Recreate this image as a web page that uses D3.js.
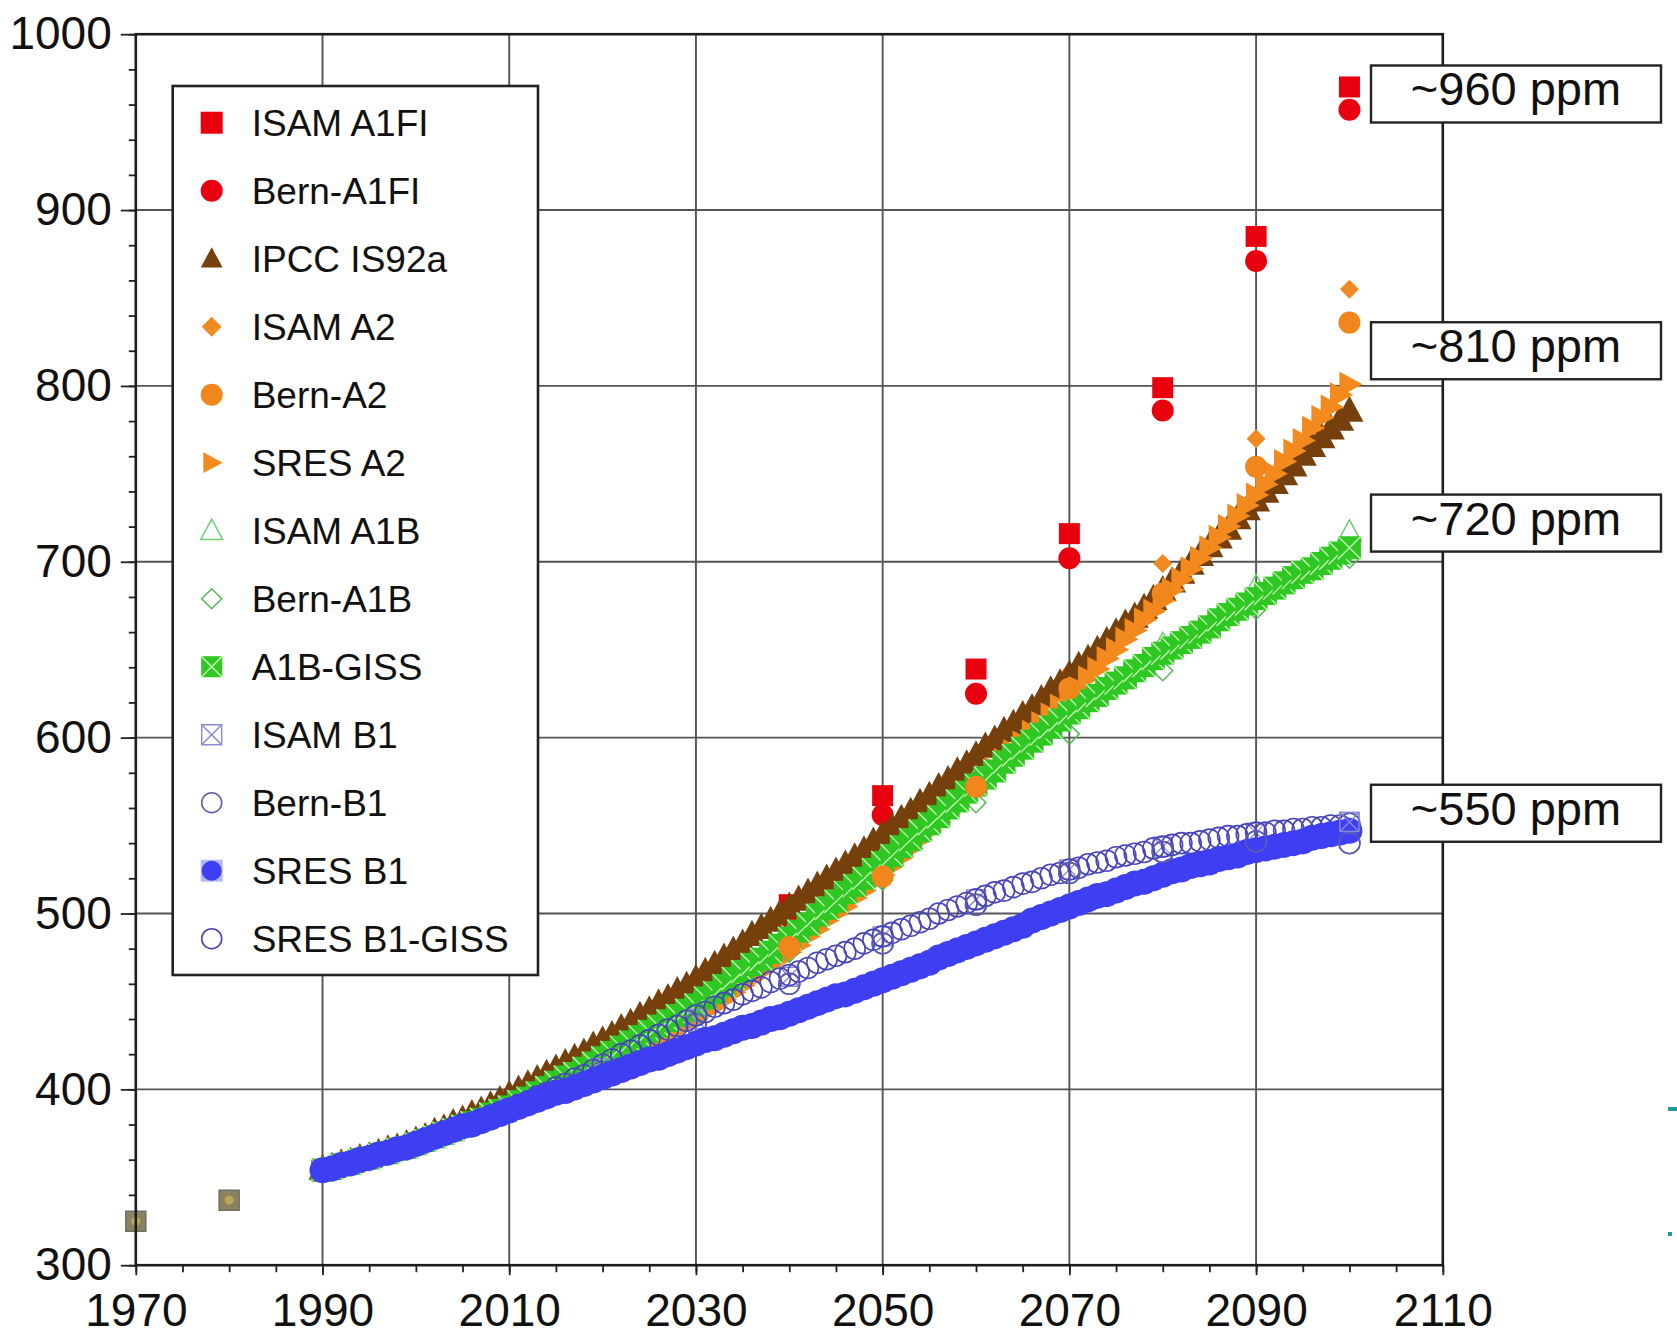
<!DOCTYPE html>
<html><head><meta charset="utf-8">
<script src="https://cdn.jsdelivr.net/npm/d3@7"></script>
<style>
body{margin:0;background:#fff}
svg{display:block}
text{font-family:"Liberation Sans",Arial,Helvetica,sans-serif;fill:#111}
</style>
</head><body>
<svg id="chart" width="1677" height="1337"></svg>
<script>
// ---------- DATA ----------
const yearsYearly = d3.range(1990, 2101);
const yearsDecadal = [1990,2000,2010,2020,2030,2040,2050,2060,2070,2080,2090,2100];
const yearsLate = [2040,2050,2060,2070,2080,2090,2100];
const histYears = [1970, 1980];
const histCO2 = [325, 337];

const isamA1FI = [505,567,639,716,799,885,970];
const bernA1FI = [498,556,625,702,786,871,957];

const ipccIS92a = [
 355,356,358,359,361,362,364,366,367,369,371,
 373,376,378,381,383,386,388,391,394,397,
 400,403,406,409,412,415,418,421,425,428,
 431,435,438,442,445,449,452,456,459,463,
 467,471,475,479,483,488,492,496,500,504,
 508,512,516,520,524,528,532,536,541,545,
 549,554,558,563,567,572,576,581,585,590,
 595,599,604,608,613,617,622,627,631,636,
 641,645,650,655,660,665,669,674,679,684,
 689,694,699,704,709,714,719,725,730,735,
 740,745,750,755,761,766,771,776,781,786];

const isamA2 = [354,369,388,413,445,484,528,580,637,699,770,855];
const bernA2 = [481,521,572,628,682,754,836];

const sresA2 = [
 354,355,356,358,359,360,362,363,365,366,368,
 370,371,373,375,377,379,381,383,385,387,
 389,391,394,396,398,401,403,405,408,410,
 413,416,419,422,425,428,431,434,437,440,
 444,447,451,455,459,463,467,471,474,478,
 482,487,491,496,500,504,509,513,518,522,
 527,532,537,542,547,552,557,562,567,572,
 577,582,587,592,597,603,608,613,618,623,
 628,634,639,645,650,656,661,667,672,678,
 684,690,696,702,708,714,720,726,732,738,
 744,750,757,763,769,776,782,788,795,801];

const isamA1B = [354,369,390,419,450,488,532,577,619,653,686,717];
const bernA1B = [354,369,388,412,441,478,519,563,602,638,673,702];

const a1bGISS = [
 354,355,357,358,360,361,363,364,366,367,369,
 371,373,375,377,379,381,383,386,388,390,
 393,395,398,401,404,407,409,412,415,418,
 421,424,427,430,433,436,439,442,445,448,
 452,455,459,463,467,471,474,478,482,486,
 490,494,499,503,507,512,516,520,525,529,
 533,538,542,547,551,555,560,564,569,573,
 577,581,586,590,594,598,602,606,610,614,
 617,621,624,628,631,634,638,641,645,648,
 651,654,657,660,663,667,670,673,676,679,
 682,685,688,691,694,696,699,702,705,708];

const isamB1 = [354,369,389,412,440,464,487,508,525,538,546,552];
const bernB1 = [354,368,388,410,437,460,483,505,523,535,541,540];

const sresB1 = [
 354,355,357,358,360,361,363,364,366,367,369,
 371,373,375,377,379,380,382,384,386,388,
 390,392,394,396,398,399,401,403,405,407,
 409,411,413,415,417,418,420,422,424,426,
 428,429,431,433,435,436,438,440,441,443,
 445,447,449,451,453,454,456,458,460,462,
 464,466,468,470,472,475,477,479,481,483,
 485,487,489,491,493,496,498,500,502,504,
 506,508,510,511,513,515,517,518,520,522,
 524,525,527,528,529,531,532,533,535,536,
 537,538,539,540,541,543,544,545,546,547];

const sresB1GISS = [
 354,355,357,358,360,361,363,364,366,367,369,
 371,373,375,377,379,381,383,385,387,389,
 391,393,396,398,401,403,406,408,411,414,
 417,420,422,425,428,431,434,436,439,442,
 444,447,449,451,454,456,458,461,463,465,
 467,469,472,474,476,478,480,483,485,487,
 489,491,493,495,497,500,502,504,506,508,
 510,512,513,515,517,518,520,522,523,525,
 526,528,529,530,532,533,534,535,537,538,
 539,540,540,541,542,543,544,544,545,546,
 546,547,547,548,548,549,549,550,550,551];

const xTickLabels = [1970,1990,2010,2030,2050,2070,2090,2110];
const yTickLabels = [300,400,500,600,700,800,900,1000];
const annotations = ["~960 ppm","~810 ppm","~720 ppm","~550 ppm"];
const annotationLevels = [966, 820, 722, 557];

// ---------- LAYOUT ----------
const svg = d3.select("#chart");
svg.append("rect").attr("width",1677).attr("height",1337).attr("fill","#fff");
const X0 = 135.8, X1 = 1442.8, Y0 = 1265.2, Y1 = 34.2;
const x = d3.scaleLinear().domain([1970,2110]).range([X0,X1]);
const y = d3.scaleLinear().domain([300,1000]).range([Y0,Y1]);

// grid
const grid = svg.append("g");
grid.selectAll("line.v").data(xTickLabels.slice(1,-1)).join("line")
  .attr("x1",d=>x(d)).attr("x2",d=>x(d)).attr("y1",Y1).attr("y2",Y0)
  .attr("stroke","#555").attr("stroke-width",1.9);
grid.selectAll("line.h").data(yTickLabels.slice(1,-1)).join("line")
  .attr("y1",d=>y(d)).attr("y2",d=>y(d)).attr("x1",X0).attr("x2",X1)
  .attr("stroke","#555").attr("stroke-width",1.9);

// axes
const axStyle = g => {
  g.select(".domain").remove();
  g.selectAll(".tick line").attr("stroke","#222").attr("stroke-width",1.8);
  g.selectAll(".tick text").attr("font-size",46).attr("fill","#111")
    .attr("font-family","'Liberation Sans',Arial,sans-serif");
};
svg.append("g").attr("transform",`translate(0,${Y0})`)
  .call(d3.axisBottom(x).tickValues(d3.range(1970,2111,5)).tickSize(7).tickFormat(""))
  .call(axStyle);
svg.append("g").attr("transform",`translate(0,${Y0})`)
  .call(d3.axisBottom(x).tickValues(xTickLabels).tickSize(10).tickPadding(18).tickFormat(d3.format("d")))
  .call(axStyle);
svg.append("g").attr("transform",`translate(${X0},0)`)
  .call(d3.axisLeft(y).tickValues(d3.range(300,1001,20)).tickSize(7).tickFormat(""))
  .call(axStyle);
svg.append("g").attr("transform",`translate(${X0},0)`)
  .call(d3.axisLeft(y).tickValues(yTickLabels).tickSize(15).tickPadding(9).tickFormat(d3.format("d")))
  .call(axStyle);

// ---------- MARKERS ----------
const shapePath = {
  square: s => `M${-s/2},${-s/2}h${s}v${s}h${-s}Z`,
  circle: s => { const r=s/2; return `M${r},0A${r},${r} 0 1,1 ${-r},0A${r},${r} 0 1,1 ${r},0Z`; },
  triUp: s => `M0,${-s*0.55}L${s*0.52},${s*0.42}L${-s*0.52},${s*0.42}Z`,
  triRight: s => `M${s*0.55},0L${-s*0.42},${s*0.52}L${-s*0.42},${-s*0.52}Z`,
  diamond: s => `M0,${-s/2}L${s/2},0L0,${s/2}L${-s/2},0Z`
};
function crossPath(s){ const h=s/2; return `M${-h},${-h}L${h},${h}M${-h},${h}L${h},${-h}`; }

const series = {
  isamA1FI:  {label:"ISAM A1FI", xs:yearsLate, vs:isamA1FI, shape:"square", size:21, fill:"#e8000e", stroke:"none", lsize:22},
  bernA1FI:  {label:"Bern-A1FI", xs:yearsLate, vs:bernA1FI, shape:"circle", size:22, fill:"#e8000e", stroke:"none", lsize:22},
  ipcc:      {label:"IPCC IS92a", xs:yearsYearly, vs:ipccIS92a, shape:"triUp", size:27, fill:"#76400d", stroke:"none", lsize:21},
  isamA2:    {label:"ISAM A2", xs:yearsDecadal, vs:isamA2, shape:"diamond", size:19, fill:"#f08a22", stroke:"none", lsize:20},
  bernA2:    {label:"Bern-A2", xs:yearsLate, vs:bernA2, shape:"circle", size:22, fill:"#f0861c", stroke:"none", lsize:22},
  sresA2:    {label:"SRES A2", xs:yearsYearly, vs:sresA2, shape:"triRight", size:24, fill:"#f28a1e", stroke:"none", lsize:20},
  isamA1B:   {label:"ISAM A1B", xs:yearsDecadal, vs:isamA1B, shape:"triUp", size:22, fill:"none", stroke:"#6fcf6f", sw:1.5, lsize:21},
  bernA1B:   {label:"Bern-A1B", xs:yearsDecadal, vs:bernA1B, shape:"diamond", size:20, fill:"none", stroke:"#55b855", sw:1.5, lsize:20},
  a1bGISS:   {label:"A1B-GISS", xs:yearsYearly, vs:a1bGISS, shape:"square", size:23, fill:"#2fc722", stroke:"none", cross:"#c8f7b8", lsize:21},
  isamB1:    {label:"ISAM B1", xs:yearsDecadal, vs:isamB1, shape:"square", size:19, fill:"none", stroke:"#8a8ad0", sw:1.4, cross:"#8a8ad0", lsize:20},
  bernB1:    {label:"Bern-B1", xs:yearsDecadal, vs:bernB1, shape:"circle", size:21, fill:"none", stroke:"#5c5cb0", sw:1.5, lsize:20},
  sresB1:    {label:"SRES B1", xs:yearsYearly, vs:sresB1, shape:"circle", size:26, fill:"#3e3ef2", stroke:"none", lsize:20},
  sresB1GISS:{label:"SRES B1-GISS", xs:yearsYearly, vs:sresB1GISS, shape:"circle", size:21, fill:"none", stroke:"#4646b8", sw:1.6, lsize:20}
};

function drawSeries(g, s){
  const pts = s.xs.map((yr,i)=>({yr, v:s.vs[i]}));
  const grp = g.append("g");
  pts.forEach(p=>{
    const t = `translate(${x(p.yr)},${y(p.v)})`;
    grp.append("path").attr("d",shapePath[s.shape](s.size)).attr("transform",t)
      .attr("fill",s.fill).attr("stroke",s.stroke).attr("stroke-width",s.sw||0);
    if(s.cross) grp.append("path").attr("d",crossPath(s.size)).attr("transform",t)
      .attr("fill","none").attr("stroke",s.cross).attr("stroke-width",1.3);
  });
}

const plot = svg.append("g");
const drawOrder = ["isamA1FI","bernA1FI","isamA2","ipcc","sresA2","isamA1B","bernA1B","a1bGISS","bernA2","isamB1","bernB1","sresB1GISS","sresB1"];
drawOrder.forEach(k=>drawSeries(plot, series[k]));
// late decadal B1 markers that show above the bands
drawSeries(plot, {xs:yearsDecadal.slice(5), vs:bernB1.slice(5), shape:"circle", size:21, fill:"none", stroke:"#5c5cb0", sw:1.5});
drawSeries(plot, {xs:yearsDecadal.slice(11), vs:isamB1.slice(11), shape:"square", size:19, fill:"none", stroke:"#8a8ad0", sw:1.4, cross:"#8a8ad0"});

// historical observations (overlapping markers)
const hist = plot.append("g");
histYears.forEach((yr,i)=>{
  const t=`translate(${x(yr)},${y(histCO2[i])})`;
  hist.append("path").attr("d",shapePath.square(20)).attr("transform",t)
    .attr("fill","#8b8360").attr("stroke","#6e6e66").attr("stroke-width",1.5);
  hist.append("path").attr("d",shapePath.circle(9)).attr("transform",t)
    .attr("fill","#b9a85a");
});

// frame
svg.append("rect").attr("x",X0).attr("y",Y1).attr("width",X1-X0).attr("height",Y0-Y1)
  .attr("fill","none").attr("stroke","#1c1c1c").attr("stroke-width",2.6);

// ---------- LEGEND ----------
const legendOrder = ["isamA1FI","bernA1FI","ipcc","isamA2","bernA2","sresA2","isamA1B","bernA1B","a1bGISS","isamB1","bernB1","sresB1","sresB1GISS"];
const lg = svg.append("g");
lg.append("rect").attr("x",172.7).attr("y",86).attr("width",365.3).attr("height",889)
  .attr("fill","#fff").attr("stroke","#222").attr("stroke-width",2.6);
legendOrder.forEach((k,i)=>{
  const s = series[k];
  const cy = 122.7 + i*68;
  const t = `translate(211.7,${cy})`;
  if(k==="sresB1") lg.append("path").attr("d",shapePath.square(22)).attr("transform",t).attr("fill","#b4b8f2");
  const sz = s.lsize;
  lg.append("path").attr("d",shapePath[s.shape](sz)).attr("transform",t)
    .attr("fill",s.fill).attr("stroke",s.stroke).attr("stroke-width",s.sw||0);
  if(s.cross) lg.append("path").attr("d",crossPath(sz)).attr("transform",t)
    .attr("fill","none").attr("stroke",s.cross).attr("stroke-width",1.6);
  lg.append("text").attr("x",251.7).attr("y",cy+13.5).attr("font-size",37).text(s.label);
});

// ---------- ANNOTATIONS ----------
const ag = svg.append("g");
annotations.forEach((txt,i)=>{
  const cy = y(annotationLevels[i]);
  ag.append("rect").attr("x",1371).attr("y",cy-28.5).attr("width",290).attr("height",57)
    .attr("fill","#fff").attr("stroke","#222").attr("stroke-width",2.4);
  ag.append("text").attr("x",1516).attr("y",cy+11.5).attr("text-anchor","middle")
    .attr("font-size",47).text(txt);
});

// crop remnants at right edge
svg.append("rect").attr("x",1668).attr("y",1107).attr("width",9).attr("height",4).attr("fill","#1c9c9c");
svg.append("rect").attr("x",1668).attr("y",1232).attr("width",4).attr("height",4).attr("fill","#1c9c9c");
</script>
</body></html>
